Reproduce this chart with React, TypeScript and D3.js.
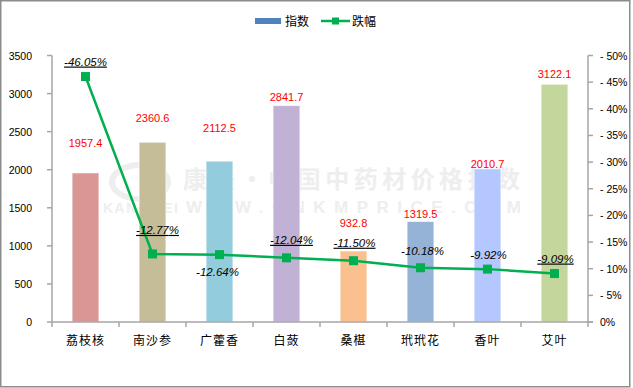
import * as d3 from 'd3';
import React from 'react';

const W = 633;
const H = 388;

// chart data
const herbs = ['荔枝核', '南沙参', '广藿香', '白蔹', '桑椹', '玳玳花', '香叶', '艾叶'];
const indexValues = [1957.4, 2360.6, 2112.5, 2841.7, 932.8, 1319.5, 2010.7, 3122.1];
const dropPct = [-46.05, -12.77, -12.64, -12.04, -11.5, -10.18, -9.92, -9.09];
const underlined = [true, true, false, true, true, false, false, true];
const leftTicks = [0, 500, 1000, 1500, 2000, 2500, 3000, 3500];
const rightTicks = [0, -5, -10, -15, -20, -25, -30, -35, -40, -45, -50];

const barColors = ['#D99694', '#C4BD97', '#93CDDD', '#C1B1D5', '#FAC090', '#95B3D7', '#B4C7FE', '#C3D69B'];

// label placement tweaks (px), like the hand-moved labels of the original
const valueLift = [30, 24, 33, 9, 28, 8, 5, 10];
const pctDy = [-15, -24, 17, -18, -18, -17, -14, -15];
const pctDx = [0, 5, -2, 5, 1, 2, 1, 1];

const margin = { left: 52, right: 45, top: 55.5, bottom: 66 };

export default function App() {
  const x = d3.scaleBand<string>()
    .domain(herbs)
    .range([margin.left, W - margin.right])
    .paddingInner(0.6)
    .paddingOuter(0.3);
  const band = d3.scaleBand<string>().domain(herbs).range([margin.left, W - margin.right]);
  const y = d3.scaleLinear().domain([0, 3500]).range([H - margin.bottom, margin.top]);
  const yr = d3.scaleLinear().domain([0, -50]).range([H - margin.bottom, margin.top]);
  const cx = (h: string) => (band(h) as number) + band.bandwidth() / 2;

  const line = d3.line<number>()
    .x((d, i) => cx(herbs[i]))
    .y(d => yr(d));

  const font = '"Liberation Sans", Arial, "Noto Sans CJK SC", sans-serif';
  const cjk = '"Noto Sans CJK SC", "Liberation Sans", sans-serif';
  const axisColor = '#A6A6A6';
  const x0 = margin.left;
  const x1 = W - margin.right;
  const yBase = H - margin.bottom;

  return (
    <div style={{ position: 'fixed', left: 0, top: 0 }}>
      <svg width={W} height={H} style={{ display: 'block', background: '#fff' }}>
        <rect x={0.75} y={0.75} width={629} height={386} fill="#fff" stroke="#8c8c8c" strokeWidth={1.5} />

        {/* watermark */}
        <g fill="#eeeeee" fontFamily={cjk} fontWeight="bold">
          <text x={183} y={188} fontSize={24} textLength={337} lengthAdjust="spacing">康美·中国中药材价格指数</text>
          <text x={103} y={213} fontSize={14} fontFamily={font} textLength={75} lengthAdjust="spacing">KANGMEI</text>
          <text x={186} y={213} fontSize={17} fontFamily={font} textLength={335} lengthAdjust="spacing">WWW.CNKMPRICE.COM</text>
          <ellipse cx={140} cy={182} rx={28} ry={17} fill="none" stroke="#eeeeee" strokeWidth={6} />
        </g>

        {/* legend */}
        <rect x={255} y={18} width={26} height={6} fill="#4F81BD" />
        <text x={285} y={25.5} fontSize={12} fontFamily={cjk}>指数</text>
        <line x1={321} x2={350} y1={21} y2={21} stroke="#00B050" strokeWidth={2.5} />
        <rect x={332} y={17.5} width={7} height={7} fill="#00B050" />
        <text x={352} y={25.5} fontSize={12} fontFamily={cjk}>跌幅</text>

        {/* bars */}
        {herbs.map((h, i) => (
          <rect key={h} x={x(h)} y={y(indexValues[i])} width={x.bandwidth()}
            height={yBase - y(indexValues[i])} fill={barColors[i]} stroke="#ffffff" strokeOpacity={0.6} />
        ))}

        {/* value labels */}
        {herbs.map((h, i) => (
          <text key={h} x={cx(h)} y={y(indexValues[i]) - valueLift[i] + 4} textAnchor="middle"
            fill="#FF0000" fontSize={11} fontFamily={font}>{indexValues[i].toFixed(1)}</text>
        ))}

        {/* axes */}
        <g stroke={axisColor} strokeWidth={1.5}>
          <line x1={x0} x2={x0} y1={margin.top} y2={yBase} />
          <line x1={x1} x2={x1} y1={margin.top} y2={yBase} />
          <line x1={x0} x2={x1 + 5} y1={yBase} y2={yBase} />
          {leftTicks.map(t => <line key={t} x1={x0 - 5} x2={x0} y1={y(t)} y2={y(t)} />)}
          {rightTicks.map(t => <line key={t} x1={x1} x2={x1 + 5} y1={yr(t)} y2={yr(t)} />)}
          {d3.range(herbs.length + 1).map(k => {
            const xx = margin.left + k * band.bandwidth();
            return <line key={k} x1={xx} x2={xx} y1={yBase} y2={yBase + 5} />;
          })}
        </g>
        {leftTicks.map(t => (
          <text key={t} x={32} y={y(t) + 4} textAnchor="end" fontSize={10.5} fontFamily={font}>{t}</text>
        ))}
        {rightTicks.map(t => (
          <text key={t} x={600} y={yr(t) + 4} fontSize={10.5} fontFamily={font}>
            {t === 0 ? '0%' : `- ${Math.abs(t)}%`}
          </text>
        ))}
        {herbs.map(h => (
          <text key={h} x={cx(h)} y={345} textAnchor="middle" fontSize={12} letterSpacing={1}
            fontFamily={cjk}>{h}</text>
        ))}

        {/* drop line */}
        <path d={line(dropPct) as string} fill="none" stroke="#00B050" strokeWidth={2.5} />
        {dropPct.map((p, i) => (
          <rect key={i} x={cx(herbs[i]) - 4.5} y={yr(p) - 4.5} width={9} height={9} fill="#00B050" />
        ))}
        {dropPct.map((p, i) => (
          <text key={i} x={cx(herbs[i]) + pctDx[i]} y={yr(p) + pctDy[i] + 4} textAnchor="middle"
            fontSize={11.5} fontStyle="italic" fontFamily={font}
            textDecoration={underlined[i] ? 'underline' : undefined}>{p.toFixed(2)}%</text>
        ))}
      </svg>
    </div>
  );
}
